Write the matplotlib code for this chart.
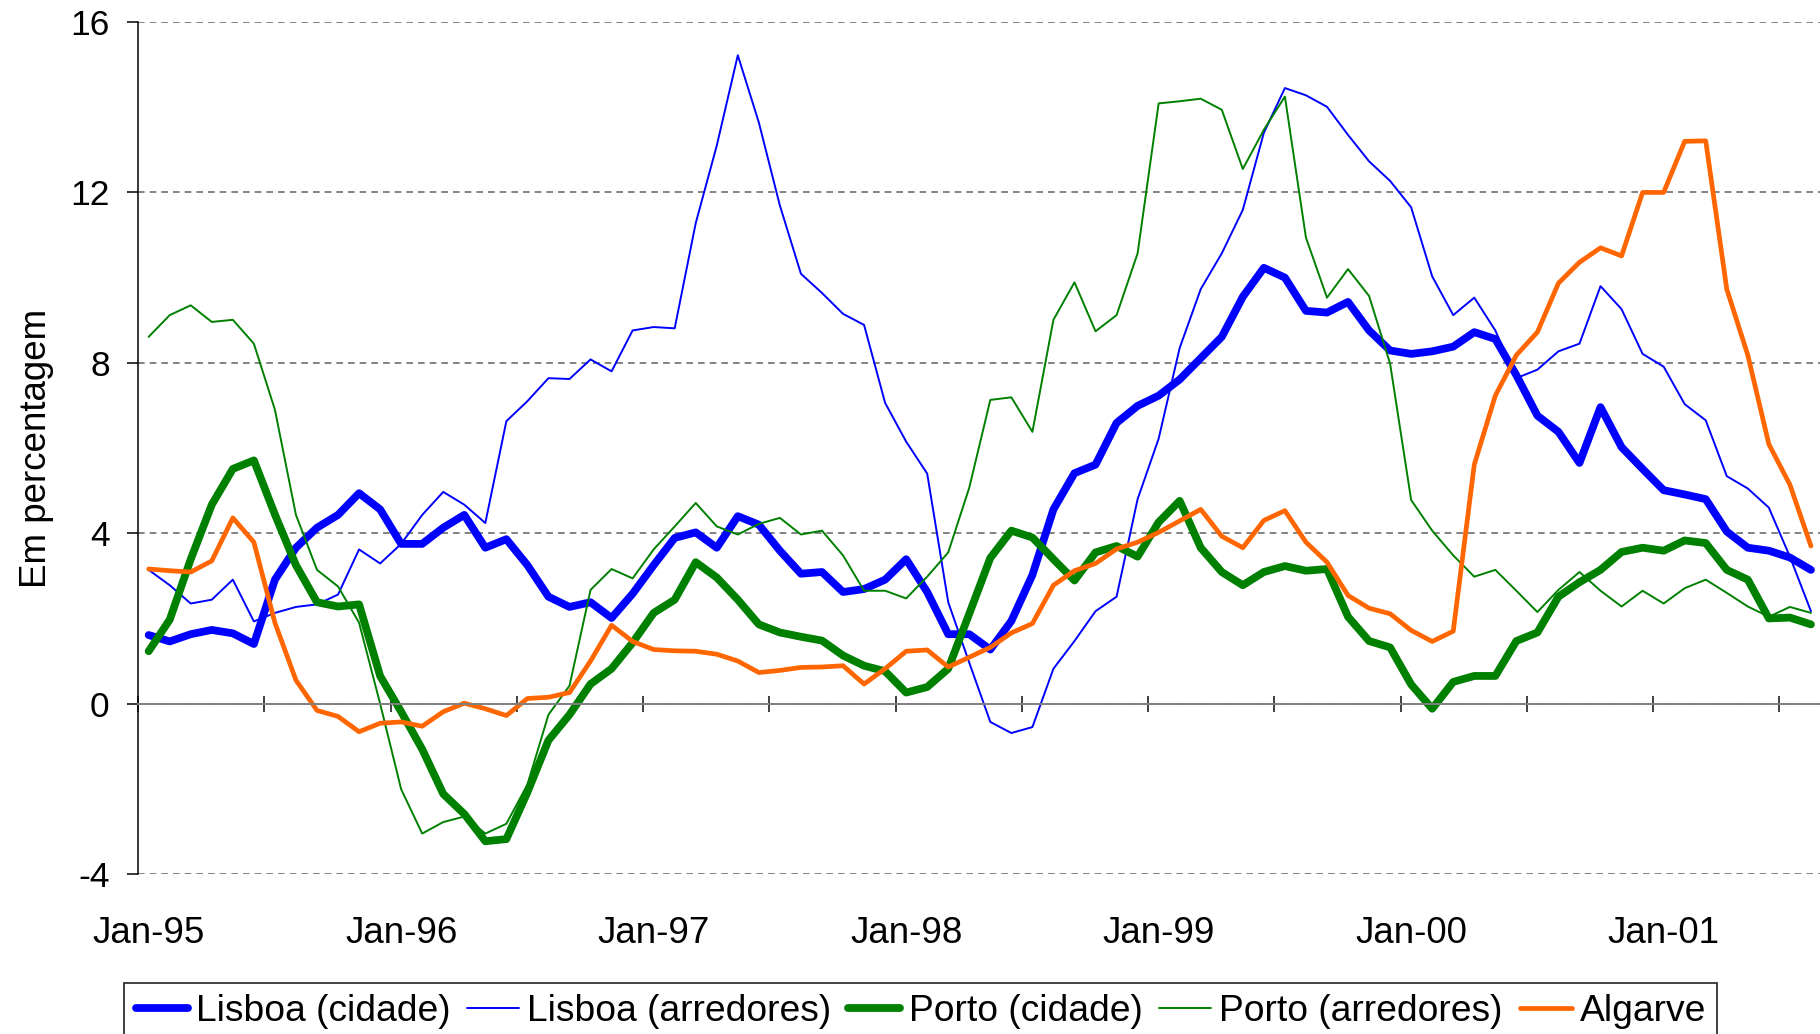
import matplotlib
matplotlib.use("Agg")
import matplotlib.pyplot as plt
import numpy as np

# monthly series, Jan-95 .. Aug-01 (80 months)
lisboa_cidade = [
    1.61, 1.46, 1.63, 1.73, 1.65, 1.40, 2.91, 3.66, 4.13, 4.43,
    4.94, 4.56, 3.75, 3.75, 4.13, 4.43, 3.66, 3.86, 3.25, 2.51,
    2.27, 2.38, 2.01, 2.58, 3.25, 3.89, 4.02, 3.66, 4.40, 4.20,
    3.59, 3.05, 3.09, 2.62, 2.69, 2.91, 3.39, 2.62, 1.63, 1.63,
    1.27, 1.94, 3.02, 4.56, 5.41, 5.61, 6.59, 6.99, 7.23, 7.61,
    8.11, 8.61, 9.55, 10.23, 10.00, 9.22, 9.18, 9.43, 8.76, 8.29,
    8.21, 8.27, 8.38, 8.72, 8.56, 7.71, 6.76, 6.38, 5.65, 6.96,
    6.02, 5.51, 5.01, 4.91, 4.80, 4.04, 3.66, 3.59, 3.43, 3.14,
]
lisboa_arredores = [
    3.14, 2.78, 2.35, 2.44, 2.91, 1.93, 2.13, 2.27, 2.33, 2.56,
    3.62, 3.29, 3.75, 4.43, 4.97, 4.67, 4.24, 6.63, 7.10, 7.64,
    7.62, 8.08, 7.80, 8.76, 8.84, 8.81, 11.28, 13.10, 15.22, 13.64,
    11.69, 10.09, 9.64, 9.15, 8.89, 7.06, 6.15, 5.40, 2.38, 0.96,
    -0.43, -0.69, -0.55, 0.82, 1.47, 2.17, 2.51, 4.80, 6.22, 8.35,
    9.73, 10.57, 11.59, 13.40, 14.45, 14.28, 14.01, 13.35, 12.73, 12.27,
    11.65, 10.03, 9.12, 9.53, 8.76, 7.64, 7.84, 8.27, 8.45, 9.80,
    9.26, 8.21, 7.91, 7.03, 6.65, 5.34, 5.05, 4.60, 3.45, 2.17,
]
porto_cidade = [
    1.23, 1.97, 3.39, 4.67, 5.51, 5.71, 4.44, 3.25, 2.38, 2.28,
    2.33, 0.65, -0.19, -1.07, -2.12, -2.59, -3.23, -3.18, -2.08, -0.86,
    -0.26, 0.46, 0.82, 1.43, 2.13, 2.44, 3.32, 2.96, 2.44, 1.86,
    1.67, 1.57, 1.48, 1.13, 0.89, 0.76, 0.26, 0.39, 0.82, 2.11,
    3.42, 4.06, 3.90, 3.39, 2.89, 3.55, 3.70, 3.45, 4.26, 4.76,
    3.66, 3.09, 2.78, 3.09, 3.23, 3.12, 3.16, 2.04, 1.47, 1.32,
    0.45, -0.12, 0.51, 0.65, 0.65, 1.47, 1.67, 2.51, 2.85, 3.14,
    3.56, 3.66, 3.59, 3.83, 3.77, 3.14, 2.91, 2.00, 2.02, 1.86,
]
porto_arredores = [
    8.61, 9.12, 9.35, 8.96, 9.01, 8.45, 6.90, 4.43, 3.14, 2.75,
    1.90, 0.00, -2.01, -3.05, -2.78, -2.65, -3.05, -2.82, -1.90, -0.26,
    0.42, 2.67, 3.16, 2.94, 3.62, 4.16, 4.71, 4.16, 3.97, 4.22,
    4.36, 3.97, 4.06, 3.48, 2.65, 2.65, 2.47, 2.98, 3.55, 5.07,
    7.13, 7.19, 6.38, 9.01, 9.89, 8.74, 9.12, 10.57, 14.09, 14.14,
    14.20, 13.94, 12.55, 13.47, 14.25, 10.94, 9.53, 10.20, 9.57, 7.98,
    4.78, 4.06, 3.48, 2.98, 3.14, 2.65, 2.15, 2.67, 3.09, 2.65,
    2.28, 2.65, 2.35, 2.71, 2.91, 2.60, 2.28, 2.04, 2.27, 2.13,
]
algarve = [
    3.16, 3.12, 3.09, 3.35, 4.36, 3.79, 1.90, 0.55, -0.16, -0.30,
    -0.66, -0.46, -0.43, -0.53, -0.19, 0.01, -0.12, -0.28, 0.12, 0.15,
    0.26, 1.00, 1.84, 1.46, 1.27, 1.24, 1.23, 1.16, 1.00, 0.73,
    0.78, 0.85, 0.86, 0.89, 0.46, 0.82, 1.23, 1.26, 0.86, 1.09,
    1.32, 1.66, 1.88, 2.78, 3.12, 3.29, 3.63, 3.79, 4.02, 4.29,
    4.56, 3.93, 3.66, 4.30, 4.53, 3.79, 3.32, 2.54, 2.24, 2.11,
    1.72, 1.46, 1.70, 5.61, 7.23, 8.18, 8.72, 9.87, 10.36, 10.70,
    10.51, 12.00, 12.00, 13.20, 13.21, 9.73, 8.18, 6.09, 5.14, 3.70,
]

year_labels = ["Jan-95", "Jan-96", "Jan-97", "Jan-98", "Jan-99", "Jan-00", "Jan-01"]
y_ticks = [-4, 0, 4, 8, 12, 16]


def main():
    plt.rcParams['font.family'] = ['Liberation Sans', 'DejaVu Sans']
    plt.rcParams['axes.unicode_minus'] = False

    fig = plt.figure(figsize=(18.2, 10.34), dpi=100)
    ax = fig.add_axes([0.0759, 0.1547, 0.9249, 0.8240])

    x = np.arange(len(lisboa_cidade))
    series = [
        (lisboa_cidade, "Lisboa (cidade)", "#0000ff", 5.6),
        (lisboa_arredores, "Lisboa (arredores)", "#0000ff", 1.4),
        (porto_cidade, "Porto (cidade)", "#008000", 5.6),
        (porto_arredores, "Porto (arredores)", "#008000", 1.4),
        (algarve, "Algarve", "#ff6600", 3.4),
    ]
    for vals, name, col, lw in series:
        ax.plot(x, vals, color=col, lw=lw, label=name,
                solid_joinstyle='round', solid_capstyle='round')

    ax.set_xlim(-0.5, len(x) - 0.5)
    ax.set_ylim(-4, 16)

    # dashed horizontal gridlines
    ax.set_yticks(y_ticks)
    ax.yaxis.grid(True, linestyle=(0, (4, 3)), color='#6e6e6e', lw=1.2)
    ax.set_axisbelow(True)
    ax.tick_params(axis='y', length=8, width=1.1, pad=12.5, labelsize=25.5,
                   direction='out')
    ax.set_ylabel("Em percentagem", fontsize=26.5, labelpad=12)

    # category axis sits on zero, tick marks between every 6 months
    for s in ['top', 'right']:
        ax.spines[s].set_visible(False)
    ax.spines['left'].set_linewidth(1.1)
    ax.spines['bottom'].set_position(('data', 0))
    ax.spines['bottom'].set_color('#808080')
    ax.spines['bottom'].set_linewidth(1.4)
    ax.set_xticks(np.arange(-0.5, len(x), 6))
    ax.set_xticklabels([])
    ax.tick_params(axis='x', direction='inout', length=12, width=1.4,
                   color='#404040')

    # year labels at the bottom of the plot area
    sec = ax.secondary_xaxis(0)
    sec.set_xticks(np.arange(0, len(x), 12))
    sec.set_xticklabels(year_labels)
    sec.tick_params(length=0, pad=30, labelsize=26.5)
    sec.spines['bottom'].set_visible(False)

    leg = fig.legend(loc='upper center', bbox_to_anchor=(0.506, 1 - 983 / 1034),
                     ncol=5, fontsize=26.8, frameon=True, fancybox=False,
                     edgecolor='black', handlelength=1.4, handletextpad=0.22,
                     columnspacing=0.45, borderpad=0.3, borderaxespad=0)
    leg.get_frame().set_linewidth(1.3)

    fig.savefig("out.png", dpi=100)


if __name__ == "__main__":
    main()
